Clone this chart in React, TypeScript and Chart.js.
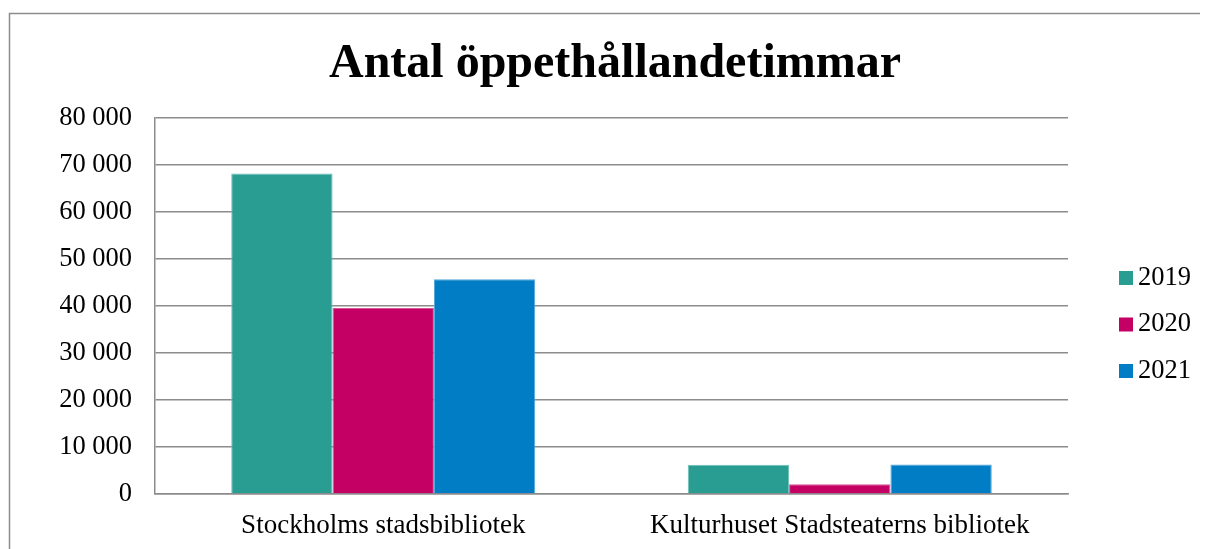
import React, { useEffect, useRef } from "react";
import { Chart, registerables } from "chart.js";

Chart.register(...registerables);

const TITLE = "Antal öppethållandetimmar";
const categories = ["Stockholms stadsbibliotek", "Kulturhuset Stadsteaterns bibliotek"];
const seriesNames = ["2019", "2020", "2021"];
const values2019 = [68200, 6200];
const values2020 = [39600, 2100];
const values2021 = [45700, 6300];
const seriesColors = ["#2A9D93", "#C40064", "#007DC5"];
const seriesBorders = ["#6CC0B8", "#D9529A", "#4FA6DA"];
const yTicks = [0, 10000, 20000, 30000, 40000, 50000, 60000, 70000, 80000];

const FONT = '"Liberation Serif", "Times New Roman", serif';

const fmt = (v: number) => String(v).replace(/\B(?=(\d{3})+(?!\d))/g, " ");

const framePlugin = {
  id: "frame",
  beforeDraw(chart: any) {
    const ctx = chart.ctx;
    ctx.save();
    ctx.strokeStyle = "#8c8c8c";
    ctx.lineWidth = 1.5;
    ctx.beginPath();
    ctx.moveTo(1.5, chart.height + 10);
    ctx.lineTo(1.5, 5.5);
    ctx.lineTo(chart.width + 10, 5.5);
    ctx.stroke();
    ctx.restore();
  },
};

const titlePlugin = {
  id: "customTitle",
  afterDraw(chart: any) {
    const ctx = chart.ctx;
    ctx.save();
    ctx.font = `bold 48px ${FONT}`;
    ctx.fillStyle = "#000";
    ctx.textAlign = "center";
    ctx.textBaseline = "alphabetic";
    ctx.fillText(TITLE, chart.width / 2 + 7, 69);
    ctx.restore();
  },
};

const legendPlugin = {
  id: "customLegend",
  afterDraw(chart: any) {
    const ctx = chart.ctx;
    const area = chart.chartArea;
    ctx.save();
    ctx.font = `26.5px ${FONT}`;
    ctx.textBaseline = "middle";
    ctx.textAlign = "left";
    chart.data.datasets.forEach((ds: any, i: number) => {
      const y = area.top + 160 + i * 46.5;
      const x = area.right + 51;
      ctx.fillStyle = ds.backgroundColor;
      ctx.fillRect(x, y - 7, 14, 14);
      ctx.fillStyle = "#000";
      ctx.fillText(ds.label, x + 19, y);
    });
    ctx.restore();
  },
};

export default function App() {
  const ref = useRef<HTMLCanvasElement | null>(null);

  useEffect(() => {
    if (!ref.current) return;
    const seriesValues = [values2019, values2020, values2021];
    const chart = new Chart(ref.current, {
      type: "bar",
      data: {
        labels: categories,
        datasets: seriesNames.map((name, i) => ({
          label: name,
          data: seriesValues[i],
          backgroundColor: seriesColors[i],
          borderColor: seriesBorders[i],
          borderWidth: 1,
          categoryPercentage: 0.666,
          barPercentage: 1.0,
        })),
      },
      options: {
        animation: false,
        responsive: true,
        maintainAspectRatio: false,
        layout: { padding: { left: 52, right: 140, top: 110, bottom: 9 } },
        plugins: {
          legend: { display: false },
          tooltip: { enabled: false },
          title: { display: false },
        },
        scales: {
          x: {
            afterFit: (scale: any) => {
              scale.height = 46;
            },
            grid: { display: false, drawTicks: false, tickLength: 0 },
            border: { display: true, color: "#8c8c8c", width: 1.5 },
            ticks: {
              color: "#000",
              font: { family: FONT, size: 27 },
              padding: 16,
              maxRotation: 0,
            },
          },
          y: {
            min: 0,
            max: 80000,
            afterBuildTicks: (scale: any) => {
              scale.ticks = yTicks.map((v) => ({ value: v }));
            },
            afterFit: (scale: any) => {
              scale.width = 95;
            },
            grid: { color: "#8c8c8c", lineWidth: 1.5, drawTicks: false, tickLength: 0 },
            border: { display: true, color: "#8c8c8c", width: 1.5 },
            ticks: {
              color: "#000",
              font: { family: FONT, size: 26.5 },
              padding: 23,
              callback: (v: any) => fmt(Number(v)),
            },
          },
        },
      },
      plugins: [framePlugin, titlePlugin, legendPlugin],
    });
    return () => chart.destroy();
  }, []);

  return (
    <div style={{ width: 1200, height: 541, position: "relative" }}>
      <canvas ref={ref} />
    </div>
  );
}
